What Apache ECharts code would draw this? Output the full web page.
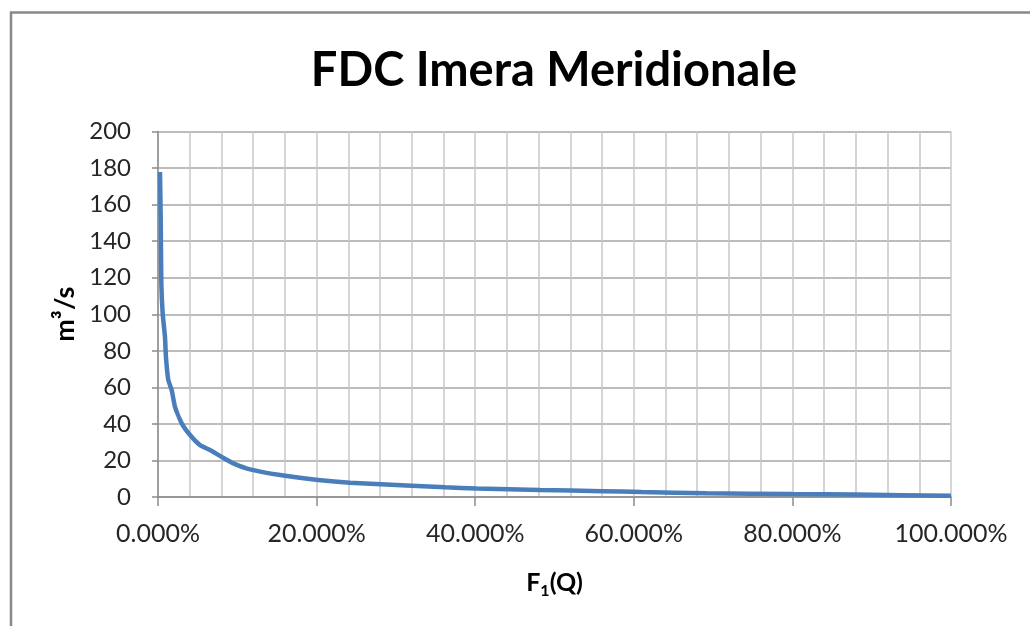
<!DOCTYPE html>
<html>
<head>
<meta charset="utf-8">
<script src="https://cdn.jsdelivr.net/npm/echarts@6/dist/echarts.min.js"></script>
<style>
html,body{margin:0;padding:0;background:#fff;}
#chart{width:1030px;height:626px;}
</style>
</head>
<body>
<div id="chart"></div>
<script>
// Exceedance probability F1(Q) in percent
const exceedance = [0.25, 0.34, 0.42, 0.59, 0.88, 1.0, 1.3, 1.73, 2.14, 2.99, 4.04, 5.3, 6.56, 8.0, 9.5, 11.6, 15.4, 20.2, 24.2, 32, 36.2, 40.2, 48.2, 56, 61, 69.2, 80, 88, 100];
// Discharge in m3/s
const discharge = [177.8, 153, 116.8, 100.4, 87.6, 76.7, 63.9, 58.5, 49.3, 40.3, 33.9, 28.4, 25.7, 22.0, 18.4, 15.1, 12.0, 9.3, 7.8, 6.2, 5.3, 4.7, 3.8, 3.2, 2.7, 2.1, 1.6, 1.3, 0.7];
const yTicks = [0, 20, 40, 60, 80, 100, 120, 140, 160, 180, 200];
const xTicks = [0, 20, 40, 60, 80, 100];
const titleText = 'FDC Imera Meridionale';

const chart = echarts.init(document.getElementById('chart'));
const font = 'Lato, "Open Sans", sans-serif';
chart.setOption({
  animation: false,
  backgroundColor: '#fff',
  title: {
    text: titleText,
    left: 549, top: 42, textAlign: 'center',
    textStyle: {fontFamily: font, fontWeight: 'bold', fontSize: 47, color: '#000'}
  },
  graphic: [{
    type: 'rect', left: 8.5, top: 10, silent: true,
    shape: {width: 1100, height: 700},
    style: {fill: 'none', stroke: '#888', lineWidth: 2.5}
  }],
  grid: {left: 158, right: 79, top: 131.5, bottom: 129},
  xAxis: {
    type: 'value', min: xTicks[0], max: xTicks[xTicks.length - 1], interval: 20,
    name: '{a|F}{s|1}{a|(Q)}', nameLocation: 'middle', nameGap: 70,
    nameTextStyle: {
      rich: {
        a: {fontFamily: font, fontWeight: 'bold', fontSize: 25, color: '#000'},
        s: {fontFamily: font, fontWeight: 'bold', fontSize: 16, color: '#000', verticalAlign: 'middle', padding: [16, 0, 0, 0]}
      }
    },
    axisLine: {show: true, lineStyle: {color: '#8c8c8c', width: 1.5}},
    axisTick: {show: true, length: 9, lineStyle: {color: '#8c8c8c', width: 1.5}},
    minorTick: {show: false, splitNumber: 5},
    splitLine: {show: true, lineStyle: {color: '#c8c8c8', width: 1.5}},
    minorSplitLine: {show: true, lineStyle: {color: '#c8c8c8', width: 1.5}},
    axisLabel: {
      margin: 24, fontFamily: font, fontSize: 25, color: '#262626',
      formatter: v => v.toFixed(3) + '%'
    }
  },
  yAxis: {
    type: 'value', min: yTicks[0], max: yTicks[yTicks.length - 1], interval: 20,
    name: 'm³/s', nameLocation: 'middle', nameGap: 79, nameRotate: 90,
    nameTextStyle: {fontFamily: font, fontWeight: 'bold', fontSize: 27, color: '#000'},
    axisLine: {show: true, lineStyle: {color: '#8c8c8c', width: 1.5}},
    axisTick: {show: true, length: 6, lineStyle: {color: '#8c8c8c', width: 1.5}},
    splitLine: {show: true, lineStyle: {color: '#a6a6a6', width: 1.5}},
    axisLabel: {margin: 27, fontFamily: font, fontSize: 24, color: '#262626'}
  },
  series: [{
    type: 'line',
    data: exceedance.map((x, i) => [x, discharge[i]]),
    showSymbol: false, smooth: 0.15,
    lineStyle: {color: '#4a7ebb', width: 4.5},
    clip: false
  }]
});
</script>
</body>
</html>
